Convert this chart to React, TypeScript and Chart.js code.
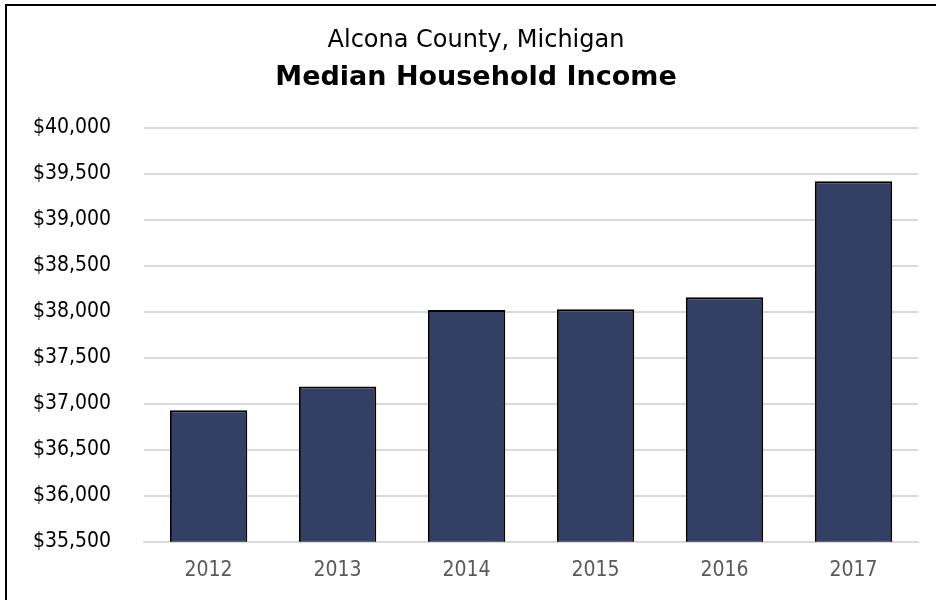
import React, { useEffect, useRef } from "react";
import { Chart, registerables } from "chart.js";

Chart.register(...registerables);

const years = ["2012", "2013", "2014", "2015", "2016", "2017"];
const incomes = [36930, 37190, 38020, 38030, 38160, 39420];
const titleLine = "Alcona County, Michigan";
const subtitleLine = "Median Household Income";
const yMin = 35500;
const yMax = 40000;
const yStep = 500;

const FONT = '"DejaVu Sans Condensed", "DejaVu Sans", sans-serif';
const TITLE_FONT = '"DejaVu Sans", sans-serif';

const titlePlugin = {
  id: "twoLineTitle",
  afterDraw(chart: any) {
    const ctx = chart.ctx;
    ctx.save();
    ctx.fillStyle = "#000000";
    ctx.textAlign = "center";
    ctx.textBaseline = "middle";
    const cx = 476;
    ctx.font = `normal 24px ${TITLE_FONT}`;
    ctx.fillText(titleLine, cx, 41);
    ctx.font = `bold 27px ${TITLE_FONT}`;
    ctx.fillText(subtitleLine, cx, 78);
    ctx.restore();
  },
};

export default function App() {
  const ref = useRef<HTMLCanvasElement | null>(null);

  useEffect(() => {
    if (!ref.current) return;
    const chart = new Chart(ref.current, {
      type: "bar",
      data: {
        labels: years,
        datasets: [
          {
            data: incomes,
            backgroundColor: "#343f66",
            borderColor: "#000000",
            borderWidth: 2,
            categoryPercentage: 1,
            barPercentage: 0.6,
          },
        ],
      },
      plugins: [titlePlugin],
      options: {
        responsive: false,
        animation: false,
        devicePixelRatio: 1,
        layout: { padding: { left: 0, right: 18, top: 128, bottom: 1 } },
        plugins: {
          legend: { display: false },
          tooltip: { enabled: false },
          title: { display: false },
          subtitle: { display: false },
        },
        scales: {
          x: {
            grid: { display: false, drawTicks: false },
            border: { display: true, color: "#d9d9d9", width: 2 },
            ticks: {
              color: "#595959",
              font: { family: FONT, size: 21 },
              padding: 16,
            },
          },
          y: {
            min: yMin,
            max: yMax,
            grid: { color: "#d9d9d9", lineWidth: 2, drawTicks: false },
            border: { display: false },
            ticks: {
              stepSize: yStep,
              color: "#000000",
              font: { family: FONT, size: 21 },
              padding: 33,
              callback: (v: any) => "$" + Number(v).toLocaleString("en-US"),
            },
          },
        },
      },
    });
    return () => chart.destroy();
  }, []);

  return (
    <div style={{ position: "absolute", left: 0, top: 0, width: 936, height: 600, background: "#fff", overflow: "hidden" }}>
      <canvas ref={ref} width={936} height={600} style={{ display: "block", width: 936, height: 600 }} />
      <div
        style={{
          position: "absolute",
          left: 5,
          top: 4,
          width: 931,
          height: 596,
          boxSizing: "border-box",
          borderTop: "2px solid #000",
          borderLeft: "2px solid #000",
          pointerEvents: "none",
        }}
      />
    </div>
  );
}
